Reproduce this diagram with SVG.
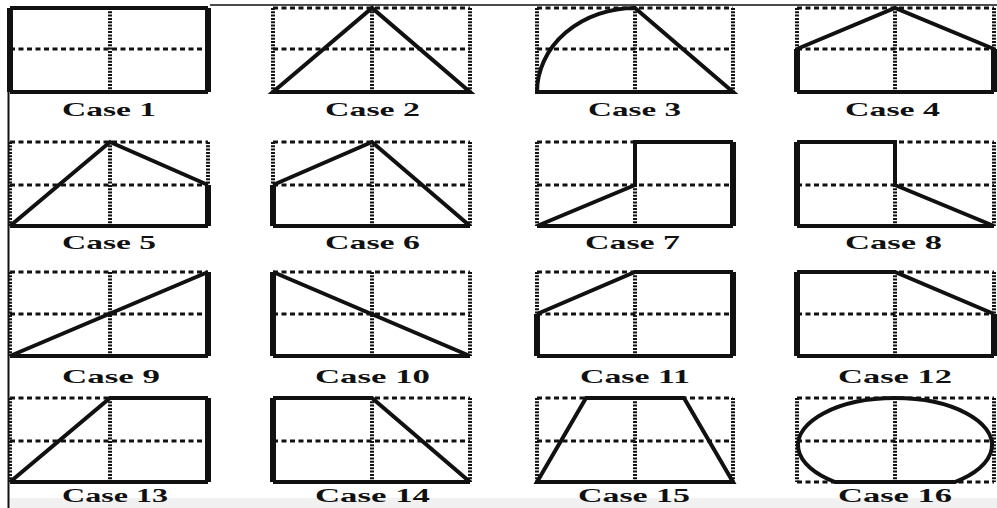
<svg xmlns="http://www.w3.org/2000/svg" width="997" height="508" viewBox="0 0 997 508">
<style>
.hd{stroke:#111;stroke-width:3;stroke-dasharray:5 3.5;fill:none}
.vd{stroke:#111;stroke-width:4;stroke-dasharray:2 1.3;fill:none}
.s{stroke:#111;stroke-width:4;fill:none;stroke-linejoin:miter}
.sv{stroke:#111;stroke-width:6;fill:none}
.lb{font-family:"Liberation Serif","Times New Roman",serif;font-weight:bold;font-size:19px;fill:#111}
.lb4{font-size:18px}
</style>
<rect width="997" height="508" fill="#fff"/>
<rect x="10" y="498" width="987" height="10" fill="#f1f1f1"/>
<g id="frame">
<line x1="210" y1="5" x2="997" y2="5" stroke="#111" stroke-width="1.6"/>
<line x1="8.5" y1="8" x2="8.5" y2="508" stroke="#111" stroke-width="2"/>
</g>
<g id="connectors"></g>
<g id="case1">
<path class="hd" d="M10,8H208M10,49H208"/><path class="vd" d="M10,8V92M110,8V92M208,8V92"/>
<path class="s" d="M10,8H208M10,92H208"/><path class="sv" d="M10,8V92M208,8V92"/>
<text class="lb" x="62" y="116" textLength="94" lengthAdjust="spacingAndGlyphs">Case 1</text>
</g>
<g id="case2">
<path class="hd" d="M273,8H470M273,49H470"/><path class="vd" d="M273,8V92M372,8V92M470,8V92"/>
<path class="s" d="M273,92L372,8L470,92Z"/>
<text class="lb" x="325" y="116" textLength="95" lengthAdjust="spacingAndGlyphs">Case 2</text>
</g>
<g id="case3">
<path class="hd" d="M537,8H733M537,49H733"/><path class="vd" d="M537,8V92M635,8V92M733,8V92"/>
<path class="s" d="M537,92A98,84 0 0 1 635,8L733,92Z"/>
<text class="lb" x="588" y="116" textLength="93" lengthAdjust="spacingAndGlyphs">Case 3</text>
</g>
<g id="case4">
<path class="hd" d="M797,8H994M797,49H994"/><path class="vd" d="M797,8V92M895,8V92M994,8V92"/>
<path class="s" d="M797,49L895,8L994,49M797,92H994"/><path class="sv" d="M797,49V92M994,49V92"/>
<text class="lb" x="845" y="116" textLength="95" lengthAdjust="spacingAndGlyphs">Case 4</text>
</g>
<g id="case5">
<path class="hd" d="M10,142H208M10,185H208"/><path class="vd" d="M10,142V226M110,142V226M208,142V226"/>
<path class="s" d="M10,226L110,142L208,185M10,226H208"/><path class="sv" d="M208,185V226"/>
<text class="lb" x="62" y="249" textLength="94" lengthAdjust="spacingAndGlyphs">Case 5</text>
</g>
<g id="case6">
<path class="hd" d="M273,142H470M273,185H470"/><path class="vd" d="M273,142V226M372,142V226M470,142V226"/>
<path class="s" d="M273,185L372,142L470,226M273,226H470"/><path class="sv" d="M273,185V226"/>
<text class="lb" x="325" y="249" textLength="95" lengthAdjust="spacingAndGlyphs">Case 6</text>
</g>
<g id="case7">
<path class="hd" d="M537,142H733M537,185H733"/><path class="vd" d="M537,142V226M635,142V226M733,142V226"/>
<path class="s" d="M537,226L635,185V142H733M537,226H733"/><path class="sv" d="M733,142V226"/>
<text class="lb" x="585" y="249" textLength="95" lengthAdjust="spacingAndGlyphs">Case 7</text>
</g>
<g id="case8">
<path class="hd" d="M797,142H994M797,185H994"/><path class="vd" d="M797,142V226M895,142V226M994,142V226"/>
<path class="s" d="M797,142H895V185L994,226M797,226H994"/><path class="sv" d="M797,142V226"/>
<text class="lb" x="845" y="249" textLength="97" lengthAdjust="spacingAndGlyphs">Case 8</text>
</g>
<g id="case9">
<path class="hd" d="M10,272H208M10,314H208"/><path class="vd" d="M10,272V356M110,272V356M208,272V356"/>
<path class="s" d="M10,356L208,272M10,356H208"/><path class="sv" d="M208,272V356"/>
<text class="lb" x="62" y="383" textLength="98" lengthAdjust="spacingAndGlyphs">Case 9</text>
</g>
<g id="case10">
<path class="hd" d="M273,272H470M273,314H470"/><path class="vd" d="M273,272V356M372,272V356M470,272V356"/>
<path class="s" d="M273,272L470,356M273,356H470"/><path class="sv" d="M273,272V356"/>
<text class="lb" x="315" y="383" textLength="115" lengthAdjust="spacingAndGlyphs">Case 10</text>
</g>
<g id="case11">
<path class="hd" d="M537,272H733M537,314H733"/><path class="vd" d="M537,272V356M635,272V356M733,272V356"/>
<path class="s" d="M537,314L635,272H733M537,356H733"/><path class="sv" d="M537,314V356M733,272V356"/>
<text class="lb" x="580" y="383" textLength="110" lengthAdjust="spacingAndGlyphs">Case 11</text>
</g>
<g id="case12">
<path class="hd" d="M797,272H994M797,314H994"/><path class="vd" d="M797,272V356M895,272V356M994,272V356"/>
<path class="s" d="M797,272H895L994,314M797,356H994"/><path class="sv" d="M797,272V356M994,314V356"/>
<text class="lb" x="838" y="383" textLength="114" lengthAdjust="spacingAndGlyphs">Case 12</text>
</g>
<g id="case13">
<path class="hd" d="M10,398H208M10,441H208"/><path class="vd" d="M10,398V482M110,398V482M208,398V482"/>
<path class="s" d="M10,482L110,398H208M10,482H208"/><path class="sv" d="M208,398V482"/>
<text class="lb lb4" x="62" y="502" textLength="106" lengthAdjust="spacingAndGlyphs">Case 13</text>
</g>
<g id="case14">
<path class="hd" d="M273,398H470M273,441H470"/><path class="vd" d="M273,398V482M372,398V482M470,398V482"/>
<path class="s" d="M273,398H372L470,482M273,482H470"/><path class="sv" d="M273,398V482"/>
<text class="lb lb4" x="315" y="502" textLength="115" lengthAdjust="spacingAndGlyphs">Case 14</text>
</g>
<g id="case15">
<path class="hd" d="M537,398H733M537,441H733"/><path class="vd" d="M537,398V482M635,398V482M733,398V482"/>
<path class="s" d="M537,482L586,398H684L733,482Z"/>
<text class="lb lb4" x="578" y="502" textLength="112" lengthAdjust="spacingAndGlyphs">Case 15</text>
</g>
<g id="case16">
<path class="hd" d="M797,398H994M797,441H994M797,482H994"/><path class="vd" d="M797,398V482M895,398V482M994,398V482"/>
<path class="s" d="M835,482A97,47 0 1 1 955,482Z"/>
<text class="lb lb4" x="838" y="502" textLength="114" lengthAdjust="spacingAndGlyphs">Case 16</text>
</g>
</svg>
